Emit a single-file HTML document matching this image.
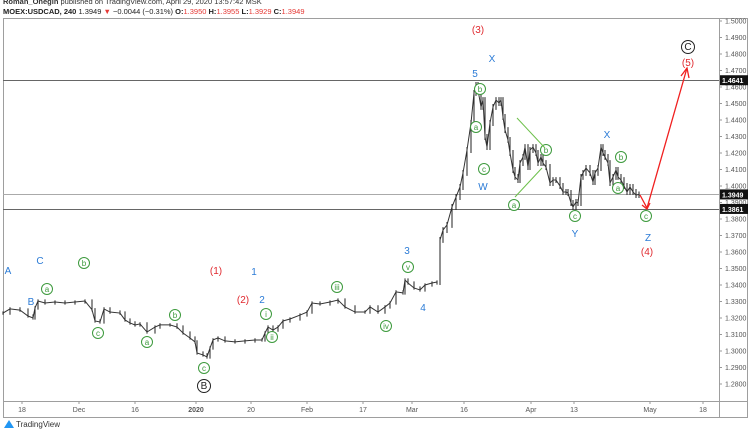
<!DOCTYPE html>
<html><head><meta charset="utf-8">
<style>
html,body{margin:0;padding:0;background:#fff;width:750px;height:430px;overflow:hidden;font-family:"Liberation Sans",sans-serif;}
.hdr{position:absolute;left:3px;font-size:7.5px;white-space:nowrap;color:#222;}
</style></head>
<body>
<div class="hdr" style="top:-3px;font-weight:bold;color:#333">Roman_Onegin <span style="font-weight:normal">published on TradingView.com, April 29, 2020 13:57:42 MSK</span></div>
<div class="hdr" style="top:7px;"><b>MOEX:USDCAD, 240</b> 1.3949 <span style="color:#e53935">▼</span> −0.0044 (−0.31%) <b>O:</b><span style="color:#e53935">1.3950</span> <b>H:</b><span style="color:#e53935">1.3955</span> <b>L:</b><span style="color:#e53935">1.3929</span> <b>C:</b><span style="color:#e53935">1.3949</span></div>
<svg id="chart" width="750" height="430" style="position:absolute;left:0;top:0" xmlns="http://www.w3.org/2000/svg">
<g fill="none" stroke="#9e9e9e" stroke-width="1">
<rect x="3.5" y="18.5" width="744" height="399"/>
<line x1="719.5" y1="18" x2="719.5" y2="418"/>
<line x1="3" y1="401.5" x2="748" y2="401.5"/>
</g>
<g id="yaxis"></g>
<g id="xaxis"></g>
<g id="levels"></g>
<g id="bars"></g>
<g id="notes"></g>
<g>
<path d="M4 428 L9 420 L14 428 Z" fill="#2196f3"/>
<text x="16" y="427" font-size="8" fill="#333">TradingView</text>
</g>
</svg>
<script>
const ticks=[1.28,1.29,1.30,1.31,1.32,1.33,1.34,1.35,1.36,1.37,1.38,1.39,1.40,1.41,1.42,1.43,1.44,1.45,1.46,1.47,1.48,1.49,1.50];
const timeLabels=["18","Dec","16","2020","20","Feb","17","Mar","16","Apr","13","May","18"];
const timeIdx=[11,39.5,67.5,98,125.5,153.5,181.5,206,232,265.5,287,325,351.5];
const levels=[1.4641,1.3949,1.3861];
const barIdx=[1.5,5,10,14,16.5,17.5,19,22.5,27.5,32.5,37.5,42.5,46,47.5,50,52,55,60,62.5,65,67.5,70,73.5,77.5,80,85,88.5,91.5,95,97.5,98.5,101.5,103.5,105,106.5,109,112.5,117.5,122.5,127.5,131,132.5,134,136.5,139,141.5,145,150,153.5,156,160,165,169,172.5,177.5,182.5,185,189,192.5,195,198,201.5,202.5,204,207,210,212.5,216,218.5,
220,221.5,223.5,226,228,230,231.5,233.5,235.5,237,238,239,240.5,241.5,242.5,243.5,245,246.5,248,249.5,250.5,251.5,252.5,254,255,256.5,257.5,259,260,261.5,262.5,264,265,266.5,268,269,270.5,271.5,273,275,276.5,278,280,281.5,283,284,285.5,286.5,288,289,290.5,291.5,293,295,296.5,297.5,299,300.5,301.5,302.5,304,305,306.5,308,309,310.5,312,313.5,315,316.5,318,319.5,320.5];
const closes=[1.3230,1.3255,1.3248,1.3212,1.3200,1.3261,1.3303,1.3291,1.3297,1.3291,1.3297,1.3303,1.3250,1.3182,1.3176,1.3255,1.3236,1.3230,1.3188,1.3170,1.3158,1.3164,1.3115,1.3145,1.3158,1.3158,1.3145,1.3109,1.3079,1.3055,1.2988,1.2976,1.2964,1.3018,1.3067,1.3079,1.3061,1.3055,1.3061,1.3067,1.3067,1.3109,1.3145,1.3127,1.3145,1.3182,1.3194,1.3218,1.3236,1.3291,1.3285,1.3297,1.3309,1.3267,1.3236,1.3236,1.3267,1.3236,1.3267,1.3291,1.3358,1.3352,1.3430,1.3412,1.3382,1.3370,1.3400,1.3412,1.3418,
1.3673,1.3733,1.3764,1.3873,1.3933,1.3994,1.4079,1.4218,1.4382,1.4564,1.4612,1.4582,1.4479,1.4521,1.4297,1.4236,1.4382,1.4479,1.4521,1.4503,1.4521,1.4418,1.4339,1.4279,1.4200,1.4097,1.4055,1.4036,1.4139,1.4176,1.4236,1.4115,1.4218,1.4236,1.4200,1.4139,1.4176,1.4139,1.4115,1.4018,1.4036,1.4036,1.4000,1.3964,1.3964,1.3958,1.3897,1.3873,1.3903,1.3897,1.4055,1.4079,1.4109,1.4079,1.4024,1.4079,1.4109,1.4236,1.4200,1.4176,1.4139,1.4018,1.4055,1.4097,1.4055,1.4036,1.4000,1.3964,1.3994,1.3964,1.3945,1.3949];
const NS="http://www.w3.org/2000/svg";
function y(p){return 186+(1.4-p)*1650;}
function x(i){return i*2;}
function mk(tag,attrs,parent){const e=document.createElementNS(NS,tag);for(const k in attrs)e.setAttribute(k,attrs[k]);parent.appendChild(e);return e;}
const ya=document.getElementById('yaxis');
ticks.forEach(t=>{
  const g=mk('g',{},ya);
  
  
  mk('line',{x1:719,x2:722,y1:y(t),y2:y(t),stroke:'#999'},g);
  const tx=mk('text',{x:725,y:y(t)+2.5,'font-size':7,fill:'#555'},g);tx.textContent=t.toFixed(4);
});
const xa=document.getElementById('xaxis');
timeLabels.forEach((l,i)=>{
  const g=mk('g',{},xa);
  
  
  mk('line',{x1:x(timeIdx[i]),x2:x(timeIdx[i]),y1:401,y2:404,stroke:'#999'},g);
  const tx=mk('text',{x:x(timeIdx[i]),y:412,'font-size':7,fill:'#555','text-anchor':'middle','font-weight':l==='2020'?'bold':'normal'},g);tx.textContent=l;
});
const lv=document.getElementById('levels');
levels.forEach((p,i)=>{
  const g=mk('g',{},lv);
  
  
  mk('line',{x1:3,x2:719,y1:Math.round(y(p))+0.5,y2:Math.round(y(p))+0.5,stroke:i===1?'#aaa':'#666','stroke-width':1},g);
  mk('rect',{x:720,y:y(p)-5,width:28,height:10,fill:'#111'},g);
  const tx=mk('text',{x:722,y:y(p)+3,'font-size':7,fill:'#fff','font-weight':'bold'},g);tx.textContent=p.toFixed(4);
});
const bg=document.getElementById('bars');
let pts=[];
closes.forEach((c,i)=>{
  const prev=i>0?closes[i-1]:c;
  const w=i>=69?0.0018:0.0010;
  const hi=Math.max(c,prev)+w,lo=Math.min(c,prev)-w;
  const b=mk('line',{x1:x(barIdx[i]),x2:x(barIdx[i]),y1:y(hi),y2:y(lo),stroke:'#222','stroke-width':1},bg);
  
  
  if(i===69)pts.push(null);
  pts.push([x(barIdx[i]),y(c)]);
});
let seg=[];const segs=[];pts.forEach(p=>{if(p===null){segs.push(seg);seg=[];}else seg.push(p);});segs.push(seg);
segs.forEach(s=>{const pl=mk('polyline',{points:s.map(p=>p.join(',')).join(' '),fill:'none',stroke:'#333','stroke-width':1},bg);

});
const nt=document.getElementById('notes');
function txt(s,xx,yy,col,size){const t=mk('text',{x:xx,y:yy,'font-size':size||10,fill:col,'text-anchor':'middle'},nt);t.textContent=s;

}
function circ(s,xx,yy,col,r){const g=mk('g',{},nt);


mk('circle',{cx:xx,cy:yy,r:r||5.5,fill:'#fff',stroke:col,'stroke-width':1},g);
const t=mk('text',{x:xx,y:yy+3,'font-size':(r||5.5)>6?10:8,fill:col,'text-anchor':'middle'},g);t.textContent=s;}
const B='#2b7bd6',R='#e0282e',G='#3d9a3d';
[['A',8,274],['B',31,305],['C',40,264],['1',254,275],['2',262,303],['3',407,254],['4',423,311],['5',475,77],['X',492,62],['W',483,190],['Y',575,237],['X',607,138],['Z',648,241]].forEach(a=>txt(a[0],a[1],a[2],B));
[['(3)',478,33],['(1)',216,274],['(2)',243,303],['(5)',688,66],['(4)',647,255]].forEach(a=>txt(a[0],a[1],a[2],R));
[['a',47,289],['b',84,263],['c',98,333],['a',147,342],['b',175,315],['c',204,368],['i',266,314],['ii',272,337],['iii',337,287],['iv',386,326],['v',408,267],['b',480,89],['a',476,127],['c',484,169],['a',514,205],['b',546,150],['c',575,216],['a',618,188],['b',621,157],['c',646,216]].forEach(a=>circ(a[0],a[1],a[2],G));
circ('B',204,386,'#222',6.5);circ('C',688,47,'#222',6.5);
mk('line',{x1:517,y1:118,x2:545,y2:148,stroke:'#6cc04a','stroke-width':1},nt);
mk('line',{x1:515,y1:197,x2:542,y2:168,stroke:'#6cc04a','stroke-width':1},nt);
mk('polyline',{points:'640,195 647,208 687,68',fill:'none',stroke:'#f02020','stroke-width':1.3},nt);
mk('polyline',{points:'642,205 647,209 650,203',fill:'none',stroke:'#f02020','stroke-width':1.3},nt);
mk('polyline',{points:'681,76 687,68 689,78',fill:'none',stroke:'#f02020','stroke-width':1.3},nt);
</script>
</body></html>
